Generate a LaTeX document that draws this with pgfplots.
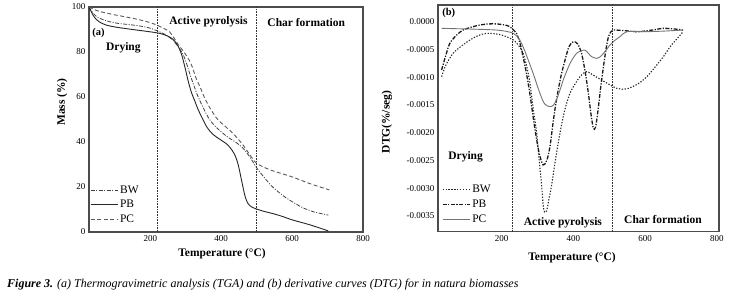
\documentclass[border=0pt]{standalone}
\usepackage{fontspec}
\setmainfont{Liberation Serif}
\usepackage{pgfplots}
\pgfplotsset{compat=1.18}
\begin{document}
\begin{tikzpicture}[x=1pt,y=1pt]
\useasboundingbox (0,0) rectangle (730,292);
\pgfplotsset{
  myaxis/.style={
    scale only axis,
    anchor=south west,
    axis line style={black!70, line width=1.1pt},
    major tick length=0pt,
    tick label style={font=\fontsize{9}{10}\selectfont},
    /pgf/number format/assume math mode=true,
    xtick={200,400,600,800},
    legend cell align=left,
    legend image code/.code={\draw[##1] (0pt,0pt) -- (27pt,0pt);},
    legend style={draw=none, fill=none, anchor=south west,
      font=\fontsize{11.5}{12}\selectfont, row sep=1.8pt, inner sep=1pt},
  }
}
% ---------------- (a) TGA ----------------
\begin{axis}[myaxis,
  at={(89pt,60pt)}, width=274pt, height=225pt,
  xmin=27, xmax=800, ymin=0, ymax=100,
  ytick={0,20,40,60,80,100},
  legend style={at={(0.0,0.02)}},
]
\addplot[black!75, line width=0.8pt, dash pattern=on 4pt off 1.5pt on 1pt off 1.5pt, smooth] coordinates {
(27,100)(35,98)(45,96.2)(57,95)(84,93.5)(110,92.7)(150,92)(190,91)(218,89.5)(245,87.5)(265,85)(280,82)(292,79)(302,75)(312,70)(324,64.6)(335,60)(350,55)(365,50.5)(380,47.5)(400,44.5)(420,42)(440,40)(460,37.5)(480,33.5)(500,28.5)(520,24.5)(540,20.8)(556,18.5)(580,15.5)(603,13.2)(630,10.8)(660,9)(702,7.5)};
\addlegendentry{BW}
\addplot[black!85, line width=0.9pt, smooth] coordinates {
(27,100)(33,98)(42,95.5)(55,93.5)(75,92)(105,91)(150,90)(198,89)(226,88.3)(250,87)(265,85.5)(277,83)(288,79)(298,73)(307,67)(316,62)(326,58)(336,54)(347,50.5)(360,46.5)(376,43.5)(395,41.3)(414,39.3)(425,37.5)(436,35)(444,32)(450,28.5)(456,24)(462,19.5)(468,15.5)(475,12.8)(485,11.2)(500,10.2)(520,9.2)(550,8)(575,6.8)(600,5.4)(650,3.2)(702,0.5)};
\addlegendentry{PB}
\addplot[black!65, line width=0.9pt, dash pattern=on 4pt off 2.5pt, smooth] coordinates {
(27,100)(40,99)(57,98)(100,96.5)(150,95)(190,93.5)(218,92)(240,90.3)(254,89)(268,86)(280,83)(295,80)(311,76)(318,73.5)(330,68)(340,64.6)(352,60)(365,56)(385,51)(400,48.5)(432,44)(460,39)(480,34.5)(500,30.5)(540,27.5)(600,24.5)(650,21.5)(705,18.7)};
\addlegendentry{PC}
\addplot[black!80, densely dotted, line width=0.6pt, forget plot] coordinates {(220,0)(220,100)};
\addplot[black!80, densely dotted, line width=0.6pt, forget plot] coordinates {(500,0)(500,100)};
\node[font=\fontsize{11.5}{12}\selectfont\bfseries] at (axis cs:364,93.3) {Active pyrolysis};
\node[font=\fontsize{11.5}{12}\selectfont\bfseries] at (axis cs:640,92.9) {Char formation};
\node[font=\fontsize{10.5}{12}\selectfont\bfseries] at (axis cs:54,88.4) {(a)};
\node[font=\fontsize{11.5}{12}\selectfont\bfseries] at (axis cs:124,81.8) {Drying};
\end{axis}
% ---------------- (b) DTG ----------------
\begin{axis}[myaxis,
  at={(438pt,60.3pt)}, width=281pt, height=226.7pt,
  xmin=23, xmax=806, ymin=-0.003783, ymax=0.000301,
  ytick={-0.0035,-0.003,-0.0025,-0.002,-0.0015,-0.001,-0.0005,0},
  scaled y ticks=false,
  yticklabel style={/pgf/number format/.cd, fixed, fixed zerofill, precision=4},
  legend style={at={(0.01,0.02)}},
]
\addplot[black!85, line width=1.1pt, dash pattern=on 1.3pt off 1.6pt, smooth] coordinates {
(33,-0.00099)(45,-0.00078)(65,-0.00057)(90,-0.00043)(112,-0.00033)(135,-0.00025)(158,-0.00021)(185,-0.00022)(205,-0.00025)(233,-0.00033)(250,-0.00045)(260,-0.00057)(270,-0.0008)(279,-0.0011)(289,-0.0016)(298,-0.0020)(305,-0.0025)(312,-0.00297)(316,-0.0033)(320,-0.00343)(326,-0.0034)(332,-0.0032)(339,-0.00297)(350,-0.0025)(363,-0.0020)(376,-0.0016)(390,-0.0013)(405,-0.00112)(420,-0.00098)(437,-0.0009)(460,-0.00098)(484,-0.00107)(521,-0.0012)(549,-0.00121)(580,-0.00112)(605,-0.00099)(630,-0.0008)(651,-0.00063)(670,-0.00045)(690,-0.0003)(706,-0.00018)};
\addlegendentry{BW}
\addplot[black!90, line width=1.3pt, dash pattern=on 4pt off 1.5pt on 1.2pt off 1.5pt, smooth] coordinates {
(33,-0.00087)(45,-0.0006)(56,-0.00039)(75,-0.00024)(93,-0.00015)(115,-0.0001)(139,-0.00006)(165,-0.00004)(186,-0.00004)(210,-0.00006)(223,-0.00009)(235,-0.00016)(242,-0.00021)(252,-0.0004)(260,-0.00063)(270,-0.00095)(279,-0.0013)(290,-0.0018)(298,-0.00213)(306,-0.0024)(316,-0.00258)(326,-0.0025)(335,-0.00225)(344,-0.0018)(353,-0.00141)(365,-0.001)(377,-0.00069)(388,-0.00045)(400,-0.00036)(412,-0.0004)(423,-0.00057)(433,-0.0009)(442,-0.00129)(450,-0.0017)(456,-0.00192)(462,-0.0019)(469,-0.00159)(476,-0.0012)(484,-0.00081)(491,-0.0005)(498,-0.00027)(505,-0.00018)(512,-0.00015)(540,-0.00016)(580,-0.00018)(620,-0.00015)(650,-0.00012)(680,-0.00013)(706,-0.00015)};
\addlegendentry{PB}
\addplot[black!55, line width=0.9pt, smooth] coordinates {
(33,-0.00012)(100,-0.00013)(150,-0.00014)(186,-0.00015)(210,-0.00017)(233,-0.00021)(248,-0.0003)(260,-0.00045)(275,-0.0007)(288,-0.00093)(307,-0.00129)(320,-0.00148)(335,-0.00153)(345,-0.0015)(353,-0.00141)(363,-0.00123)(372,-0.00105)(381,-0.0009)(391,-0.00075)(400,-0.00065)(409,-0.00057)(420,-0.00053)(432,-0.00051)(442,-0.00057)(451,-0.00063)(465,-0.00066)(475,-0.00063)(484,-0.00057)(493,-0.0005)(502,-0.00042)(515,-0.00034)(530,-0.00027)(549,-0.00018)(600,-0.00018)(650,-0.00017)(706,-0.00015)};
\addlegendentry{PC}
\addplot[black!80, densely dotted, line width=0.6pt, forget plot] coordinates {(230,-0.003783)(230,0.000301)};
\addplot[black!80, densely dotted, line width=0.6pt, forget plot] coordinates {(508,-0.003783)(508,0.000301)};
\node[font=\fontsize{10.5}{12}\selectfont\bfseries] at (axis cs:53,0.000157) {(b)};
\node[font=\fontsize{11.5}{12}\selectfont\bfseries] at (axis cs:100,-0.00244) {Drying};
\node[font=\fontsize{11.5}{12}\selectfont\bfseries] at (axis cs:371,-0.00363) {Active pyrolysis};
\node[font=\fontsize{11.5}{12}\selectfont\bfseries] at (axis cs:650,-0.00357) {Char formation};
\end{axis}
% axis labels
\node[font=\fontsize{11.5}{12}\selectfont\bfseries] at (222,38) {Temperature (°C)};
\node[font=\fontsize{11.5}{12}\selectfont\bfseries] at (572,34) {Temperature (°C)};
\node[font=\fontsize{11.5}{12}\selectfont\bfseries, rotate=90] at (62,190) {Mass (\%)};
\node[font=\fontsize{11.5}{12}\selectfont\bfseries, rotate=90] at (387,170) {DTG(\%/seg)};
% caption
\node[anchor=base west, inner sep=0pt, font=\fontsize{12}{13}\selectfont\itshape] at (7,5) {\textbf{Figure 3.} (a) Thermogravimetric analysis (TGA) and (b) derivative curves (DTG) for in natura biomasses};
\end{tikzpicture}
\end{document}
